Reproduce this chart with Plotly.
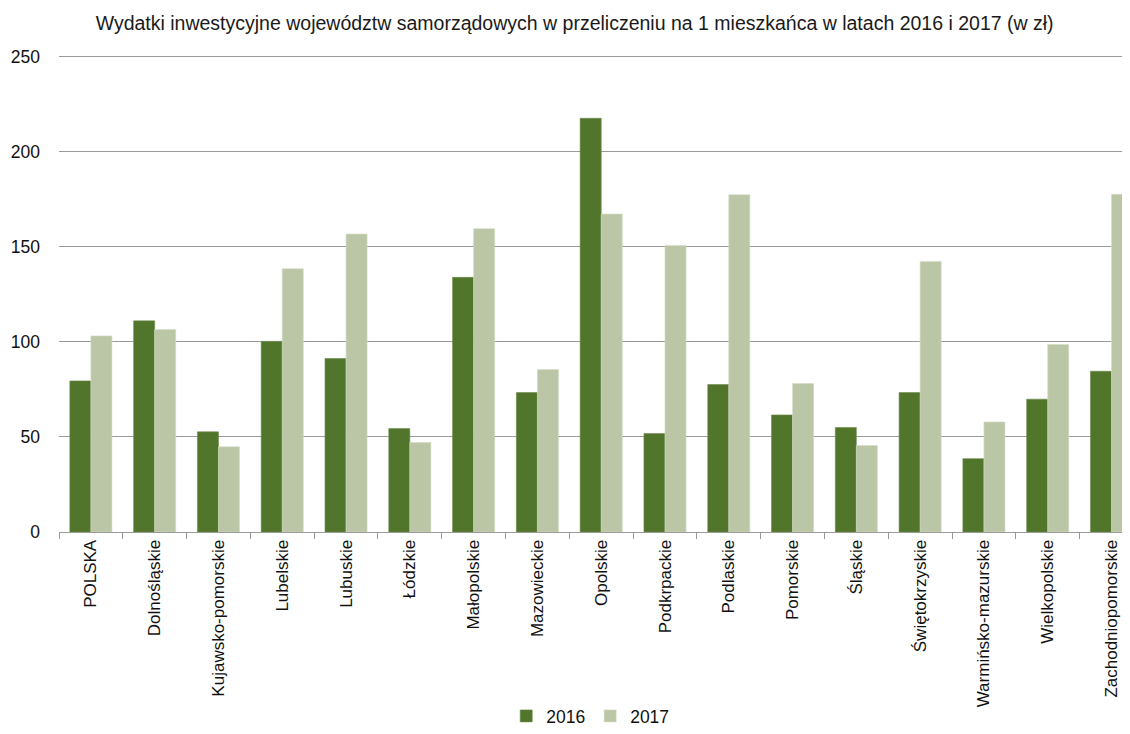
import plotly.graph_objects as go

# Wydatki inwestycyjne na 1 mieszkańca (zł)
regions = ['POLSKA', 'Dolnośląskie', 'Kujawsko-pomorskie', 'Lubelskie', 'Lubuskie',
           'Łódzkie', 'Małopolskie', 'Mazowieckie', 'Opolskie', 'Podkrpackie',
           'Podlaskie', 'Pomorskie', 'Śląskie', 'Świętokrzyskie',
           'Warmińsko-mazurskie', 'Wielkopolskie', 'Zachodniopomorskie']
values_2016 = [79.5, 111.1, 52.7, 100.3, 91.3, 54.4, 134.0, 73.4, 217.7, 51.8,
               77.6, 61.6, 55.0, 73.4, 38.6, 69.9, 84.6]
values_2017 = [103.2, 106.6, 44.8, 138.5, 156.8, 47.1, 159.6, 85.5, 167.3, 150.8,
               177.5, 78.1, 45.5, 142.4, 57.9, 98.7, 177.7]
y_ticks = [0, 50, 100, 150, 200, 250]

font = 'Liberation Sans, Arial, sans-serif'

fig = go.Figure()
fig.add_trace(go.Bar(
    x=regions, y=values_2016, name='2016',
    marker=dict(color='#52752C', line=dict(color='#6E8A4C', width=0.6)),
))
fig.add_trace(go.Bar(
    x=regions, y=values_2017, name='2017',
    marker=dict(color='#BBC6A7', line=dict(color='#D3DBC5', width=0.6)),
))

# page body has an 8px margin, so the figure is 8px smaller than the window
fig.update_layout(
    title=dict(
        text='Wydatki inwestycyjne województw samorządowych w przeliczeniu na 1 mieszkańca w latach 2016 i 2017 (w zł)',
        font=dict(family=font, size=19.5, color='#1a1a1a'),
        x=0.505, xanchor='center', xref='container',
        y=0.979, yanchor='middle', yref='container',
    ),
    barmode='group',
    bargap=0.34,
    bargroupgap=0,
    xaxis=dict(
        range=[-0.5, 16.29],
        automargin=False,
        tickangle=-90,
        tickfont=dict(family=font, size=17, color='#111'),
        showline=True, linecolor='#9a9a9a', linewidth=1,
        ticks='outside', tickson='boundaries', ticklen=6, tickcolor='#9a9a9a',
        showgrid=False,
    ),
    yaxis=dict(
        range=[0, 251],
        automargin=False,
        tickvals=y_ticks,
        tickfont=dict(family=font, size=17.5, color='#111'),
        showgrid=True, gridcolor='#9a9a9a', gridwidth=1,
        zeroline=False,
        ticks='', ticklabelstandoff=18,
    ),
    legend=dict(
        orientation='h',
        x=0.496, xanchor='center',
        y=0.0, yanchor='bottom', yref='container',
        font=dict(family=font, size=17.5, color='#111'),
        itemwidth=30,
    ),
    plot_bgcolor='white',
    paper_bgcolor='white',
    width=1122,
    height=726,
    margin=dict(l=51, r=0, t=47, b=202),
)

fig.write_html('out.html')
